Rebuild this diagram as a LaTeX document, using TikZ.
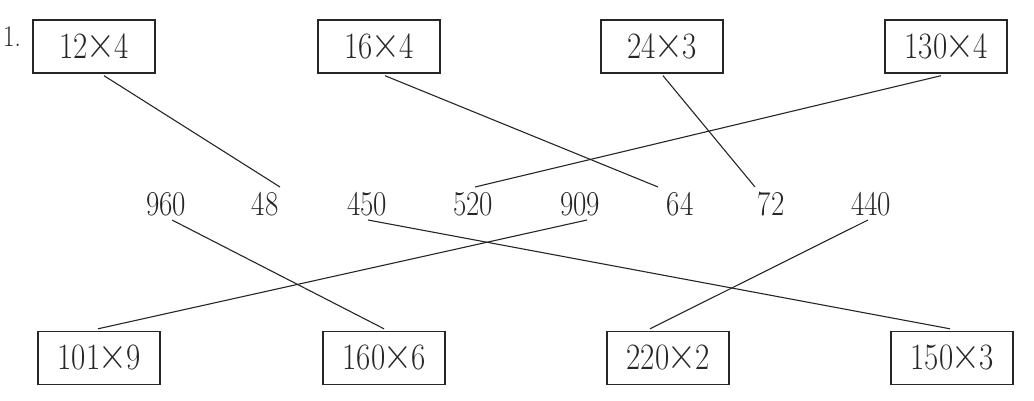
\documentclass[tikz,border=0pt]{standalone}
\usepackage{fontspec}
\usepackage{graphicx}
\setmainfont{Latin Modern Roman}
\usetikzlibrary{calc}
\newcommand{\tms}{\kern-1.5pt{\fontsize{40}{40}\selectfont ×}\kern-1.5pt}
\newcommand{\tall}[1]{\scalebox{1}[1.2]{#1}}
\begin{document}
\begin{tikzpicture}[x=1pt,y=-1pt,
  expr/.style={draw=black!85,line width=1.4pt,minimum width=122pt,minimum height=53pt,inner sep=0pt,font=\fontsize{31}{31}\selectfont,text=black!85},
  num/.style={inner sep=0pt,font=\fontsize{29}{29}\selectfont,text=black!85},
  link/.style={draw=black!85,line width=1.1pt}]
\useasboundingbox (0,0) rectangle (1034,401);
\node[anchor=base west,inner sep=0pt,font=\fontsize{25}{25}\selectfont,text=black!85] (lbl) at (3,47) {\tall{1.}};
\node[expr] (b1) at (94,46.5) {\tall{12\tms4}};
\node[expr] (b2) at (379,46.5) {\tall{16\tms4}};
\node[expr] (b3) at (662,46.5) {\tall{24\tms3}};
\node[expr] (b4) at (946,46.5) {\tall{130\tms4}};
\node[num] (n960) at (166,204) {\tall{960}};
\node[num] (n48) at (265,204) {\tall{48}};
\node[num] (n450) at (367,204) {\tall{450}};
\node[num] (n520) at (473,204) {\tall{520}};
\node[num] (n909) at (580,204) {\tall{909}};
\node[num] (n64) at (680,204) {\tall{64}};
\node[num] (n72) at (771,204) {\tall{72}};
\node[num] (n440) at (871,204) {\tall{440}};
\node[expr] (c1) at (99,358) {\tall{101\tms9}};
\node[expr] (c2) at (384,358) {\tall{160\tms6}};
\node[expr] (c3) at (668,358) {\tall{220\tms2}};
\node[expr] (c4) at (952,358) {\tall{150\tms3}};
\draw[link] ($(b1.south)+(10,2)$) -- ($(n48)+(15,-17)$);
\draw[link] ($(b2.south)+(6,2)$) -- ($(n64)+(-22,-17)$);
\draw[link] ($(b3.south)+(1,2)$) -- ($(n72)+(-16,-17)$);
\draw[link] ($(b4.south)+(-5,2)$) -- ($(n520)+(2,-17)$);
\draw[link] ($(n960)+(6,16)$) -- ($(c2.north)+(0,-2)$);
\draw[link] ($(n450)+(1,16)$) -- ($(c4.north)+(-2,-2)$);
\draw[link] ($(n909)+(7,16)$) -- ($(c1.north)+(-1,-2)$);
\draw[link] ($(n440)+(-3,16)$) -- ($(c3.north)+(-18,-2)$);
\end{tikzpicture}
\end{document}
